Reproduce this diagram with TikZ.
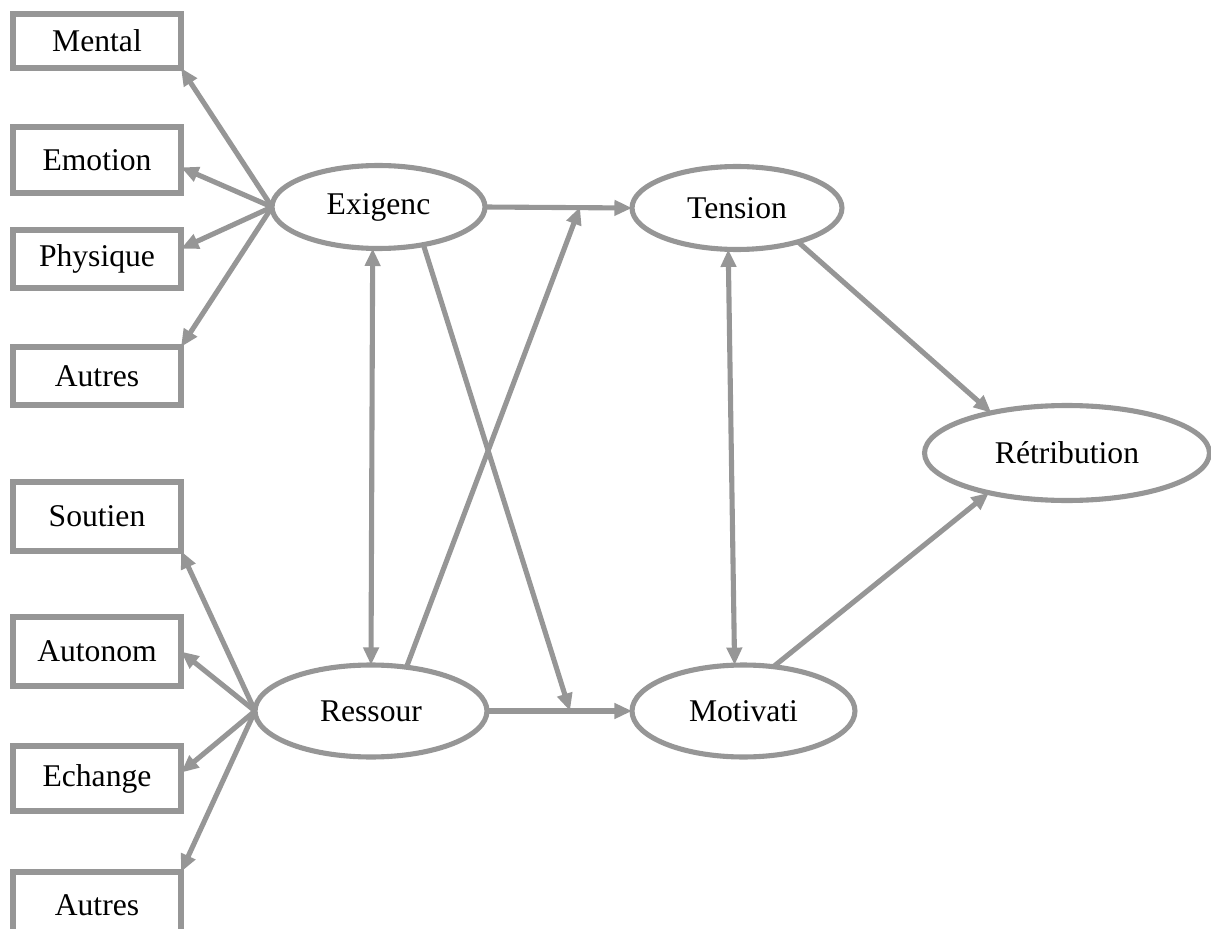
\documentclass[tikz,border=0pt]{standalone}
\usepackage{fontspec}
\setmainfont{Liberation Serif}
\usetikzlibrary{shapes.geometric,arrows.meta}
\definecolor{linegray}{RGB}{150,150,150}

\begin{document}
\begin{tikzpicture}[x=0.02cm,y=-0.02cm,
  font=\fontsize{18}{20}\selectfont,
  every node/.style={draw=linegray,line width=2.9pt,fill=white,inner sep=0pt,outer sep=0pt},
  box/.style={rectangle,minimum width=3.36cm},
  latent/.style={ellipse},
  link/.style={draw=linegray,line width=2.9pt,-{Triangle[length=10pt,width=8.5pt]}},
  both/.style={draw=linegray,line width=2.9pt,{Triangle[length=10pt,width=8.5pt]}-{Triangle[length=10pt,width=8.5pt]}}]
\clip (0,0) rectangle (1211,929);

\node[box,minimum height=1.08cm] (mental) at (97,41) {Mental};
\node[box,minimum height=1.32cm] (emo) at (97,160) {Emotion};
\node[box,minimum height=1.16cm] (phys) at (97,259) {Physique};
\node[box,minimum height=1.16cm] (autres) at (97,376) {Autres};
\node[box,minimum height=1.38cm] (soutien) at (97,516.5) {Soutien};
\node[box,minimum height=1.38cm] (auton) at (97,651.5) {Autonom};
\node[box,minimum height=1.30cm] (ech) at (97,778.5) {Echange};
\node[box,minimum height=1.32cm] (autresb) at (97,905) {Autres};

\node[latent,minimum width=4.26cm,minimum height=1.66cm] (exig) at (378.5,207) {Exigenc};
\node[latent,minimum width=4.64cm,minimum height=1.84cm] (res) at (371,711) {Ressour};
\node[latent,minimum width=4.2cm,minimum height=1.66cm] (tens) at (737,208) {Tension};
\node[latent,minimum width=4.46cm,minimum height=1.84cm] (mot) at (743.5,711) {Motivati};
\node[latent,minimum width=5.7cm,minimum height=1.9cm] (ret) at (1067,453) {R\'etribution};

\coordinate (jt) at (580,207);
\coordinate (jm) at (570,711);

\draw[link] (exig.west) -- (mental.south east);
\draw[link] (exig.west) -- (emo.-5);
\draw[link] (exig.west) -- (phys.7);
\draw[link] (exig.west) -- (autres.north east);
\draw[link] (res.west) -- (soutien.south east);
\draw[link] (res.west) -- (auton.east);
\draw[link] (res.west) -- (ech.4);
\draw[link] (res.west) -- (autresb.north east);

\draw[link] (exig.east) -- (tens.west);
\draw[link] (res.east) -- (mot.west);
\draw[link] (res.51) -- (jt);
\draw[link] (exig.-40) -- (jm);
\draw[both] (exig.-98) -- (res.north);
\draw[both] (tens.-102) -- (mot.101);
\draw[link] (tens.-29) -- (ret.152);
\draw[link] (mot.56) -- (ret.-153);
\end{tikzpicture}
\end{document}
